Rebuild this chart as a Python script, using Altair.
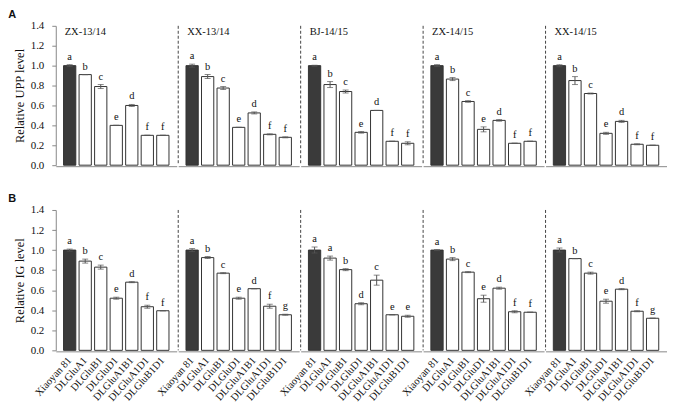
import altair as alt
import pandas as pd

envs = ["ZX-13/14", "XX-13/14", "BJ-14/15", "ZX-14/15", "XX-14/15"]
cultivars = ["Xiaoyan 81", "DLGluA1", "DLGluB1", "DLGluD1", "DLGluA1B1", "DLGluA1D1", "DLGluB1D1"]

# Panel A: relative UPP level
upp_zx1314 = [1.00, 0.91, 0.79, 0.40, 0.60, 0.30, 0.30]
upp_xx1314 = [1.00, 0.89, 0.775, 0.38, 0.525, 0.31, 0.28]
upp_bj1415 = [1.00, 0.81, 0.74, 0.33, 0.55, 0.24, 0.22]
upp_zx1415 = [1.00, 0.865, 0.64, 0.36, 0.45, 0.22, 0.24]
upp_xx1415 = [1.00, 0.85, 0.72, 0.32, 0.44, 0.21, 0.20]
upp_err_zx1314 = [0.01, 0.0, 0.02, 0.0, 0.01, 0.0, 0.0]
upp_err_xx1314 = [0.015, 0.02, 0.015, 0.0, 0.01, 0.005, 0.005]
upp_err_bj1415 = [0.005, 0.03, 0.015, 0.008, 0.0, 0.0, 0.015]
upp_err_zx1415 = [0.01, 0.015, 0.008, 0.025, 0.008, 0.0, 0.0]
upp_err_xx1415 = [0.01, 0.04, 0.005, 0.01, 0.01, 0.005, 0.0]
upp_let_zx1314 = ["a", "b", "c", "e", "d", "f", "f"]
upp_let_xx1314 = ["a", "b", "c", "e", "d", "f", "f"]
upp_let_bj1415 = ["a", "b", "c", "e", "d", "f", "f"]
upp_let_zx1415 = ["a", "b", "c", "e", "d", "f", "f"]
upp_let_xx1415 = ["a", "b", "c", "e", "d", "f", "f"]

# Panel B: relative IG level
ig_zx1314 = [1.00, 0.89, 0.83, 0.52, 0.68, 0.435, 0.395]
ig_xx1314 = [1.00, 0.925, 0.77, 0.52, 0.615, 0.44, 0.355]
ig_bj1415 = [1.00, 0.92, 0.805, 0.465, 0.70, 0.355, 0.34]
ig_zx1415 = [1.00, 0.91, 0.78, 0.515, 0.62, 0.385, 0.38]
ig_xx1415 = [1.00, 0.915, 0.77, 0.49, 0.61, 0.39, 0.32]
ig_err_zx1314 = [0.01, 0.02, 0.02, 0.01, 0.005, 0.015, 0.0]
ig_err_xx1314 = [0.015, 0.01, 0.005, 0.01, 0.0, 0.02, 0.005]
ig_err_bj1415 = [0.03, 0.02, 0.01, 0.01, 0.05, 0.0, 0.01]
ig_err_zx1415 = [0.005, 0.015, 0.005, 0.035, 0.01, 0.01, 0.0]
ig_err_xx1415 = [0.02, 0.0, 0.01, 0.02, 0.005, 0.005, 0.0]
ig_let_zx1314 = ["a", "b", "c", "e", "d", "f", "f"]
ig_let_xx1314 = ["a", "b", "c", "e", "d", "f", "g"]
ig_let_bj1415 = ["a", "a", "b", "d", "c", "e", "e"]
ig_let_zx1415 = ["a", "b", "c", "e", "d", "f", "f"]
ig_let_xx1415 = ["a", "b", "c", "e", "d", "f", "g"]

SERIF = "Liberation Serif"


def build(vals, errs, lets):
    rows = []
    for env, v, e, l in zip(envs, vals, errs, lets):
        for c, vv, ee, ll in zip(cultivars, v, e, l):
            rows.append(dict(env=env, cultivar=c, value=vv, err=ee, letter=ll,
                             lo=vv - ee, hi=vv + ee))
    return pd.DataFrame(rows)


df_a = build([upp_zx1314, upp_xx1314, upp_bj1415, upp_zx1415, upp_xx1415],
             [upp_err_zx1314, upp_err_xx1314, upp_err_bj1415, upp_err_zx1415, upp_err_xx1415],
             [upp_let_zx1314, upp_let_xx1314, upp_let_bj1415, upp_let_zx1415, upp_let_xx1415])
df_b = build([ig_zx1314, ig_xx1314, ig_bj1415, ig_zx1415, ig_xx1415],
             [ig_err_zx1314, ig_err_xx1314, ig_err_bj1415, ig_err_zx1415, ig_err_xx1415],
             [ig_let_zx1314, ig_let_xx1314, ig_let_bj1415, ig_let_zx1415, ig_let_xx1415])

W = 121.5


def panel(df, ytitle, letter, show_xlabels, show_groups, h):
    if show_xlabels:
        xaxis = alt.Axis(labelAngle=-48, labelFont=SERIF, labelFontSize=10.5, labelColor="#111",
                         ticks=False, domainColor="#888", labelPadding=7)
    else:
        xaxis = alt.Axis(labels=False, ticks=False, domainColor="#888")
    xsc = alt.Scale(domain=cultivars, paddingInner=0.21, paddingOuter=0.5)
    X = alt.X("cultivar:N", sort=cultivars, scale=xsc, axis=xaxis, title=None)
    ysc = alt.Scale(domain=[0, 1.4], nice=False)
    yaxis = alt.Axis(values=[0, 0.2, 0.4, 0.6, 0.8, 1.0, 1.2, 1.4], format=".1f", grid=False,
                     labelFont=SERIF, labelFontSize=11, labelColor="#111", tickSize=4,
                     tickColor="#888", domainColor="#888", labelPadding=8,
                     titleFont=SERIF, titleFontSize=12.5, titleFontWeight="normal",
                     titleColor="#111", titlePadding=4)

    def Y(field):
        return alt.Y(f"{field}:Q", scale=ysc, axis=yaxis, title=ytitle)

    base = alt.Chart()
    bars = base.mark_bar(stroke="#333", strokeWidth=1).encode(
        x=X, y=Y("value"),
        color=alt.condition(alt.datum.cultivar == "Xiaoyan 81", alt.value("#3a3a3a"), alt.value("white")),
    )
    rule = base.mark_rule(color="#555", strokeWidth=1).encode(x=X, y=Y("lo"), y2="hi:Q")
    tlo = base.mark_tick(color="#555", size=6, thickness=1).encode(x=X, y=Y("lo"))
    thi = base.mark_tick(color="#555", size=6, thickness=1).encode(x=X, y=Y("hi"))
    lets = base.mark_text(font=SERIF, fontSize=10.5, baseline="alphabetic", dy=-5, color="#111").encode(
        x=X, y=Y("hi"), text="letter:N")
    dash = base.mark_rule(color="#444", strokeDash=[3, 2], strokeWidth=1).encode(
        x=alt.value(0), y=alt.value(0), y2=alt.value(h)
    ).transform_filter((alt.datum.cultivar == "Xiaoyan 81") & (alt.datum.env != envs[0]))
    layers = [bars, rule, tlo, thi, lets, dash]
    if show_groups:
        glab = base.mark_text(font=SERIF, fontSize=10.5, align="left", baseline="middle", color="#111").encode(
            x=alt.value(9), y=alt.value(6), text="env:N"
        ).transform_filter(alt.datum.cultivar == "Xiaoyan 81")
        layers.append(glab)
    lay = alt.layer(*layers, data=df).properties(width=W, height=h)
    return lay.facet(
        column=alt.Column("env:N", sort=envs,
                          header=alt.Header(labels=False, labelPadding=0, titlePadding=0), title=None),
        spacing=0,
    ).properties(
        title=alt.TitleParams(letter, anchor="start", font="Liberation Sans", fontSize=11,
                              fontWeight="bold", color="#111", offset=0, dx=-5)
    )


pa = panel(df_a, "Relative UPP level", "A", False, True, 140)
pb = panel(df_b, "Relative IG level", "B", True, False, 141)

chart = alt.vconcat(pa, pb, spacing=23).properties(
    padding={"left": 0, "top": 0, "right": 0, "bottom": 0}
).configure_view(stroke=None).configure_facet(spacing=0)

chart.save("out.html", embed_options={"renderer": "svg", "actions": False})
